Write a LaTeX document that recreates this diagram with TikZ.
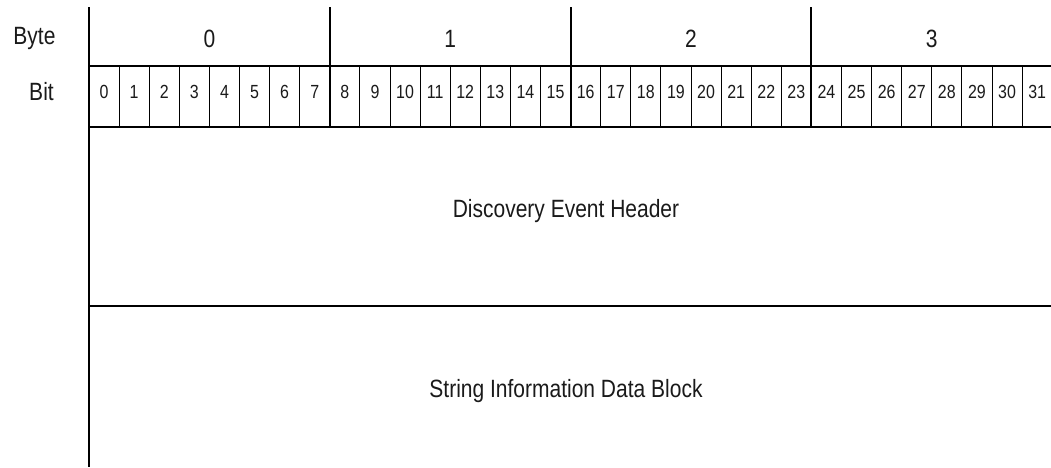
\documentclass[tikz,border=0pt]{standalone}
\usepackage{fontspec}
\setmainfont{Liberation Sans}[FakeStretch=0.84]
\usepackage{tikz}
\definecolor{gridline}{HTML}{000000}
\definecolor{labeltext}{HTML}{1A1A1A}
\tikzset{every node/.append style={font=\rmfamily,text=labeltext,inner sep=0pt}}
\tikzset{
  heavyline/.style={gridline,line width=1pt},
  lightline/.style={gridline,line width=0.5pt},
  bitnum/.style={anchor=base,font=\rmfamily\fontsize{9.5}{11}\selectfont},
  rowtext/.style={anchor=base,font=\rmfamily\fontsize{12.5}{14}\selectfont}
}

\begin{document}
\begin{tikzpicture}[x=0.5pt,y=-0.5pt]
\useasboundingbox (0,0) rectangle (1051,467);
\coordinate (TL) at (89,7); \coordinate (BL) at (89,467);
% field rows
\draw[heavyline] (89,66)--(1051,66);
\draw[heavyline] (89,127)--(1051,127);
\draw[heavyline] (89,306)--(1051,306);
\draw[heavyline] (TL)--(BL);
% bit cells
\foreach \k in {1,...,31}{
  \pgfmathtruncatemacro{\r}{mod(\k,8)}
  \ifnum\r=0
    \draw[heavyline] ({89+30.1*\k},7)--({89+30.1*\k},127);
  \else
    \draw[lightline] ({89+30.1*\k},66)--({89+30.1*\k},127);
  \fi
}
\node[rowtext] (bytehead) at (34.5,44) {Byte};
\node[rowtext] (bithead) at (41.5,100) {Bit};
\foreach \b in {0,...,3}
  \node[rowtext] (byte\b) at ({89+30.1*(8*\b+4)},47) {\b};
\foreach \b in {0,...,31}
  \node[bitnum] (bit\b) at ({89+30.1*(\b+0.5)},98) {\b};
\node[rowtext] (header) at (566,217) {Discovery Event Header};
\node[rowtext] (datablock) at (566,397) {String Information Data Block};
\end{tikzpicture}
\end{document}
